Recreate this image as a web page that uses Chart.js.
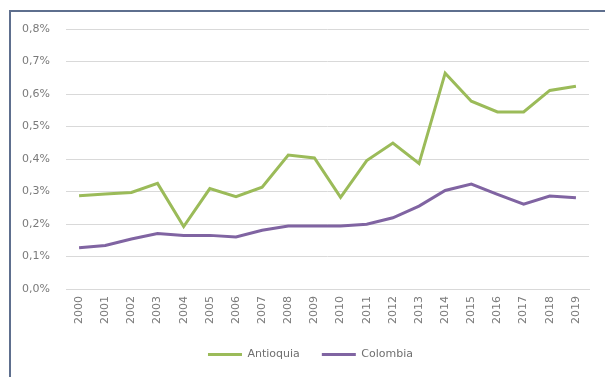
<!DOCTYPE html>
<html>
<head>
<meta charset="utf-8">
<script src="https://cdn.jsdelivr.net/npm/chart.js@4/dist/chart.umd.min.js"></script>
<style>
	html, body { margin: 0; padding: 0; background: #ffffff; }
	#wrap { position: relative; width: 605px; height: 377px; overflow: hidden; }
	#frame {
		position: absolute; left: 9px; top: 10px; width: 700px; height: 500px;
		border-top: 2px solid #5e6f8e; border-left: 2px solid #5e6f8e;
		box-sizing: border-box; pointer-events: none;
	}
</style>
</head>
<body>
<div id="wrap">
	<canvas id="chartPreview" width="605" height="377"></canvas>
	<div id="frame"></div>
</div>
<script>
	'use strict';

	const years = ['2000', '2001', '2002', '2003', '2004', '2005', '2006', '2007', '2008', '2009',
		'2010', '2011', '2012', '2013', '2014', '2015', '2016', '2017', '2018', '2019'];
	const antioquia = [0.287, 0.292, 0.297, 0.325, 0.192, 0.309, 0.284, 0.313, 0.412, 0.403,
		0.282, 0.395, 0.449, 0.386, 0.664, 0.578, 0.545, 0.545, 0.611, 0.624];
	const colombia = [0.127, 0.134, 0.154, 0.171, 0.165, 0.165, 0.160, 0.181, 0.194, 0.194,
		0.194, 0.199, 0.219, 0.255, 0.303, 0.323, 0.291, 0.261, 0.286, 0.281];
	const yTicks = [0, 0.1, 0.2, 0.3, 0.4, 0.5, 0.6, 0.7, 0.8];

	const fontFamily = '"DejaVu Sans", sans-serif';

	// nudge the legend a bit right, like the original sits centred under the plot
	const legendShift = {
		id: 'legendShift',
		afterLayout: function (chart) {
			if (chart.legend) {
				chart.legend.left += 16;
				chart.legend.right += 16;
			}
		}
	};

	const handleInitialChart = function () {
		const ctx = document.getElementById('chartPreview').getContext('2d');

		new Chart(ctx, {
			type: 'line',
			data: {
				labels: years,
				datasets: [
					{
						label: 'Antioquia',
						data: antioquia,
						borderColor: '#9bbb59',
						backgroundColor: '#9bbb59',
						borderWidth: 3,
						pointRadius: 0,
						tension: 0
					},
					{
						label: 'Colombia',
						data: colombia,
						borderColor: '#8064a2',
						backgroundColor: '#8064a2',
						borderWidth: 3,
						pointRadius: 0,
						tension: 0
					}
				]
			},
			plugins: [legendShift],
			options: {
				responsive: false,
				animation: false,
				layout: {
					padding: { left: 0, right: 16, top: 29, bottom: 7 }
				},
				plugins: {
					tooltip: { enabled: false },
					legend: {
						position: 'bottom',
						labels: {
							color: '#6f6f6f',
							boxWidth: 34,
							boxHeight: 3,
							padding: 22,
							font: { family: fontFamily, size: 11 },
							generateLabels: function (chart) {
								return Chart.defaults.plugins.legend.labels.generateLabels(chart).map(function (item) {
									item.lineWidth = 0;
									return item;
								});
							}
						}
					}
				},
				scales: {
					y: {
						min: 0,
						max: 0.8,
						afterFit: function (scale) { scale.width = 66; },
						afterBuildTicks: function (scale) {
							scale.ticks = yTicks.map(function (v) { return { value: v }; });
						},
						grid: { color: '#d9d9d9', lineWidth: 1, drawTicks: false },
						border: { display: false },
						ticks: {
							color: '#7a7a7a',
							padding: 16,
							font: { family: fontFamily, size: 11 },
							callback: function (v) { return v.toFixed(1).replace('.', ',') + '%'; }
						}
					},
					x: {
						offset: true,
						afterFit: function (scale) { scale.height = 38; },
						grid: { display: false, drawTicks: false, offset: true },
						border: { display: true, color: '#d9d9d9', width: 1 },
						ticks: {
							color: '#7a7a7a',
							padding: 7,
							minRotation: 90,
							maxRotation: 90,
							autoSkip: false,
							font: { family: fontFamily, size: 11 }
						}
					}
				}
			}
		});
	};

	handleInitialChart();
</script>
</body>
</html>
